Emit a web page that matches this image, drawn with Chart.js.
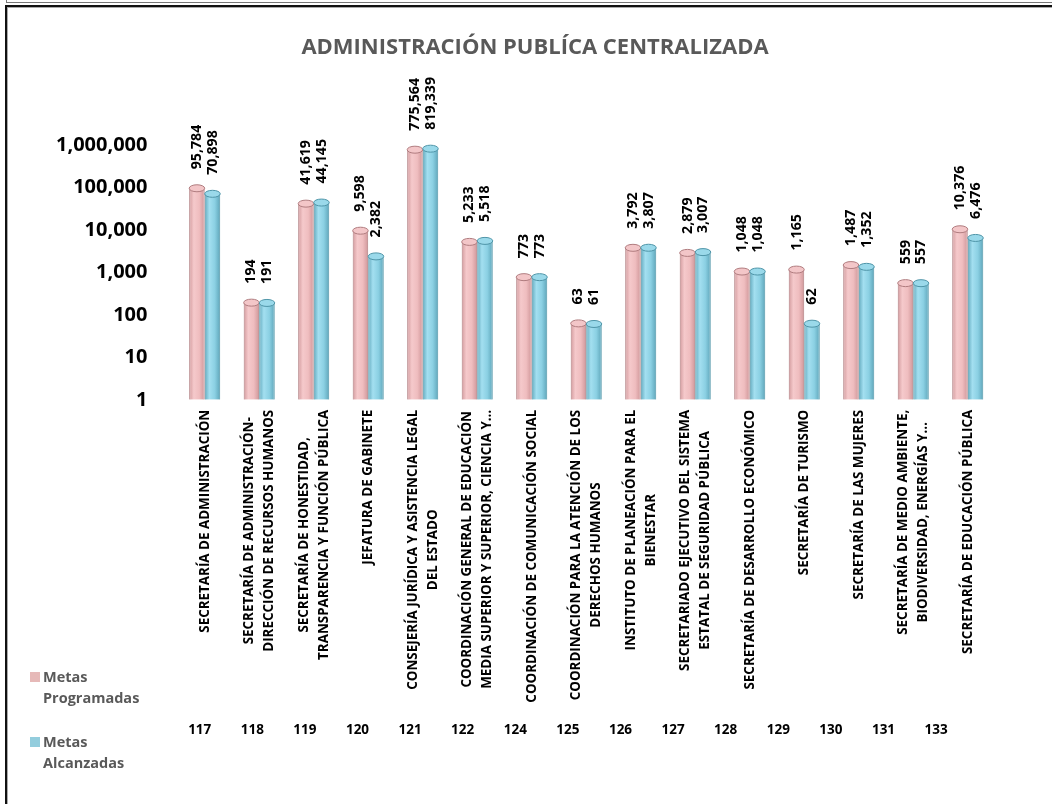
<!DOCTYPE html>
<html>
<head>
<meta charset="utf-8">
<script src="https://cdn.jsdelivr.net/npm/chart.js@4.4.0/dist/chart.umd.min.js"></script>
<style>
  html, body { margin: 0; padding: 0; background: #fff; }
  #wrap { position: relative; width: 1052px; height: 804px; overflow: hidden; }
  #chart { position: absolute; left: 0; top: 0; }
  #topline { position: absolute; left: 6px; top: -2px; right: -4px; height: 3px; border: 1px solid #777; }
  #frame { position: absolute; left: 5px; top: 5px; right: -10px; bottom: -10px;
           border-top: 2px solid #111; border-left: 2px solid #111; box-shadow: inset 1px 1px 0 #aaa; }
  #title { position: absolute; left: 235px; width: 600px; top: 30px; text-align: center;
           font: bold 22px "Open Sans", "Liberation Sans", sans-serif; line-height: 30px; color: #595959; }
  #legend { position: absolute; left: 30px; top: 666px; font: bold 14.5px "Open Sans", "Liberation Sans", sans-serif; color: #595959; }
  .item { display: flex; align-items: flex-start; line-height: 21px; margin-bottom: 23px; }
  .sw { width: 10px; height: 10px; margin-top: 6px; margin-right: 3px; flex: none; }
</style>
</head>
<body>
<div id="wrap">
  <div id="topline"></div>
  <div id="frame"></div>
  <canvas id="chart" width="1052" height="804"></canvas>
  <div id="title">ADMINISTRACIÓN PUBLÍCA CENTRALIZADA</div>
  <div id="legend">
    <div class="item"><div class="sw" style="background:#e6b9b8"></div><div>Metas<br>Programadas</div></div>
    <div class="item"><div class="sw" style="background:#93cddd"></div><div>Metas<br>Alcanzadas</div></div>
  </div>
</div>
<script>
// datos
const codeLabels = ['117','118','119','120','121','122','124','125','126','127','128','129','130','131','133'];
const nameLabels = [
  ['SECRETARÍA DE ADMINISTRACIÓN'],
  ['SECRETARÍA DE ADMINISTRACIÓN-', 'DIRECCIÓN DE RECURSOS HUMANOS'],
  ['SECRETARÍA DE HONESTIDAD,', 'TRANSPARENCIA Y FUNCIÓN PÚBLICA'],
  ['JEFATURA DE GABINETE'],
  ['CONSEJERÍA JURÍDICA Y ASISTENCIA LEGAL', 'DEL ESTADO'],
  ['COORDINACIÓN GENERAL DE EDUCACIÓN', 'MEDIA SUPERIOR Y SUPERIOR, CIENCIA Y…'],
  ['COORDINACIÓN DE COMUNICACIÓN SOCIAL'],
  ['COORDINACIÓN PARA LA ATENCIÓN DE LOS', 'DERECHOS HUMANOS'],
  ['INSTITUTO DE PLANEACIÓN PARA EL', 'BIENESTAR'],
  ['SECRETARIADO EJECUTIVO DEL SISTEMA', 'ESTATAL DE SEGURIDAD PÚBLICA'],
  ['SECRETARÍA DE DESARROLLO ECONÓMICO'],
  ['SECRETARÍA DE TURISMO'],
  ['SECRETARÍA DE LAS MUJERES'],
  ['SECRETARÍA DE MEDIO AMBIENTE,', 'BIODIVERSIDAD, ENERGÍAS Y…'],
  ['SECRETARÍA DE EDUCACIÓN PÚBLICA']
];
const metasProgramadas = [95784, 194, 41619, 9598, 775564, 5233, 773, 63, 3792, 2879, 1048, 1165, 1487, 559, 10376];
const metasAlcanzadas  = [70898, 191, 44145, 2382, 819339, 5518, 773, 61, 3807, 3007, 1048, 62, 1352, 557, 6476];
const yTickValues = [1, 10, 100, 1000, 10000, 100000, 1000000];

const FONT = '"Open Sans", "Liberation Sans", sans-serif';
Chart.defaults.font.family = FONT;

const looks = [
  { stops: [[0,'#d29a9d'],[0.3,'#f5c9cb'],[0.65,'#efbdbf'],[1,'#cf9699']], cap: '#f3c6c8', line: '#b07c7f' },
  { stops: [[0,'#63aabe'],[0.3,'#a3dff0'],[0.65,'#8bd0e3'],[1,'#5ea5b9']], cap: '#9ad9ea', line: '#4f95a8' }
];

// cilindros: degradado horizontal + tapa eliptica
const barLook = {
  id: 'barLook',
  beforeDatasetsDraw(chart) {
    const c = chart.ctx;
    chart.data.datasets.forEach((ds, di) => {
      chart.getDatasetMeta(di).data.forEach(el => {
        const g = c.createLinearGradient(el.x - el.width / 2, 0, el.x + el.width / 2, 0);
        looks[di].stops.forEach(s => g.addColorStop(s[0], s[1]));
        try { el.options.backgroundColor = g; } catch (e) {}
      });
    });
  },
  afterDatasetsDraw(chart) {
    const c = chart.ctx;
    c.save();
    chart.data.datasets.forEach((ds, di) => {
      chart.getDatasetMeta(di).data.forEach((el, i) => {
        c.beginPath();
        c.ellipse(el.x, el.y, el.width / 2, 3.5, 0, 0, Math.PI * 2);
        c.fillStyle = looks[di].cap;
        c.fill();
        c.lineWidth = 1;
        c.strokeStyle = looks[di].line;
        c.stroke();
        // etiqueta de valor
        c.save();
        c.translate(el.x, el.y - 19);
        c.rotate(-Math.PI / 2);
        c.font = 'bold 14.2px ' + FONT;
        c.fillStyle = '#000';
        c.textAlign = 'left';
        c.textBaseline = 'middle';
        c.fillText(ds.data[i].toLocaleString('en-US'), 0, 0);
        c.restore();
      });
    });
    c.restore();
  }
};

// nombres de las dependencias, girados y centrados
const nameText = {
  id: 'nameText',
  afterDraw(chart) {
    const c = chart.ctx;
    const sx = chart.scales.x;
    c.save();
    c.font = 'bold 13.4px ' + FONT;
    c.fillStyle = '#000';
    c.textAlign = 'center';
    c.textBaseline = 'middle';
    nameLabels.forEach((lines, i) => {
      const px = sx.getPixelForValue(i);
      const w = Math.max(...lines.map(l => c.measureText(l).width));
      c.save();
      c.translate(px, sx.top + 10 + w / 2);
      c.rotate(-Math.PI / 2);
      lines.forEach((l, j) => c.fillText(l, 0, (j - (lines.length - 1) / 2) * 20));
      c.restore();
    });
    c.restore();
  }
};

new Chart(document.getElementById('chart').getContext('2d'), {
  type: 'bar',
  data: {
    labels: codeLabels,
    datasets: [
      { label: 'Metas Programadas', data: metasProgramadas, backgroundColor: () => '#efbdbf',
        borderColor: looks[0].line, borderWidth: 1, categoryPercentage: 0.57, barPercentage: 1 },
      { label: 'Metas Alcanzadas', data: metasAlcanzadas, backgroundColor: () => '#8bd0e3',
        borderColor: looks[1].line, borderWidth: 1, categoryPercentage: 0.57, barPercentage: 1 }
    ]
  },
  options: {
    responsive: false,
    animation: false,
    layout: { padding: { left: 26, right: 57, top: 145, bottom: 62 } },
    plugins: {
      legend: { display: false },
      tooltip: { enabled: false },
      title: { display: false }
    },
    scales: {
      x: {
        type: 'category',
        grid: { display: false },
        border: { display: false },
        ticks: { display: false },
        afterFit: a => { a.height = 318; }
      },
      codes: {
        type: 'linear',
        position: 'bottom',
        offset: false,
        bounds: 'data',
        min: -0.423,
        max: 15.12,
        grid: { display: false, drawTicks: false, offset: false },
        border: { display: false },
        afterBuildTicks: a => { a.ticks = codeLabels.map((c, i) => ({ value: i })); },
        ticks: {
          autoSkip: false, maxRotation: 0, padding: 4, color: '#000',
          font: { size: 13.5, weight: 'bold' },
          callback: v => codeLabels[v]
        }
      },
      y: {
        type: 'logarithmic',
        min: 1,
        max: 1000000,
        grid: { display: false, drawTicks: false },
        border: { display: false },
        afterBuildTicks: a => { a.ticks = yTickValues.map(v => ({ value: v })); },
        ticks: {
          padding: 30, color: '#000',
          font: { size: 20, weight: 'bold' },
          callback: v => Number(v).toLocaleString('en-US')
        }
      }
    }
  },
  plugins: [barLook, nameText]
});
</script>
</body>
</html>
